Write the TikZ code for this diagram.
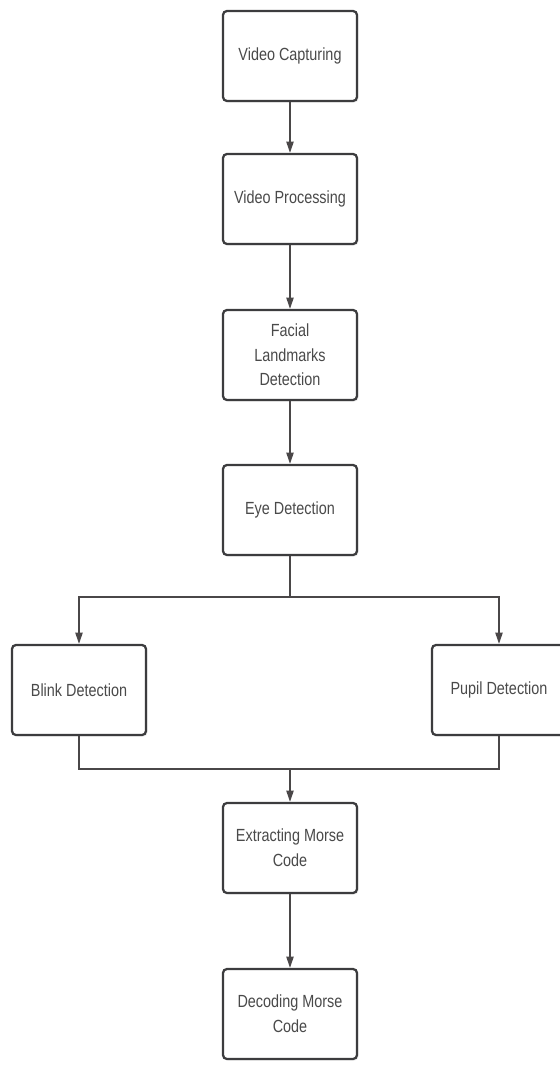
\documentclass[tikz,border=0pt]{standalone}
\usepackage{fontspec}
\setmainfont[FakeStretch=0.82]{Liberation Sans}
\usetikzlibrary{arrows.meta,positioning,calc,shadows}

\definecolor{boxline}{HTML}{3C3C3E}
\definecolor{linkline}{HTML}{4A4748}
\definecolor{labeltext}{HTML}{4A4A4A}

\begin{document}
\begin{tikzpicture}[
  x=0.025cm, y=-0.025cm,
  >={Triangle[length=2.8mm, width=1.8mm]},
  stage/.style={rectangle, draw=boxline, line width=1.6pt, rounded corners=1mm,
                fill=white, minimum width=3.35cm, minimum height=2.25cm,
                align=center, inner sep=2pt, text=labeltext,
                font=\fontsize{12.5}{17.5}\selectfont,
                drop shadow={opacity=0.12, shadow xshift=0.4mm, shadow yshift=-0.4mm}},
  link/.style={draw=linkline, line width=1.1pt},
  flow/.style={->, draw=linkline, line width=1.1pt}
]
\useasboundingbox (0,0) rectangle (560,1068);

% ---------- Stages ----------
\node[stage] (VC) at (290,56)   {Video Capturing};
\node[stage] (VP) at (290,199)  {Video Processing};
\node[stage] (FL) at (290,355)  {Facial\\Landmarks\\Detection};
\node[stage] (ED) at (290,510)  {Eye Detection};
\node[stage] (BD) at (79,690)   {Blink Detection};
\node[stage] (PD) at (499,690)  {Pupil Detection};
\node[stage] (EM) at (290,848)  {Extracting Morse\\Code};
\node[stage] (DM) at (290,1014) {Decoding Morse\\Code};

% ---------- Branch points ----------
\coordinate (split) at (290,597);
\coordinate (merge) at (290,769);

% ---------- Main chain ----------
\draw[flow] (VC) -- (VP);
\draw[flow] (VP) -- (FL);
\draw[flow] (FL) -- (ED);

% ---------- Split into blink / pupil ----------
\draw[link] (ED) -- (split);
\draw[flow] (split) -| (BD);
\draw[flow] (split) -| (PD);

% ---------- Merge into decoding ----------
\draw[link] (BD) |- (merge);
\draw[link] (PD) |- (merge);
\draw[flow] (merge) -- (EM);
\draw[flow] (EM) -- (DM);

\end{tikzpicture}
\end{document}
